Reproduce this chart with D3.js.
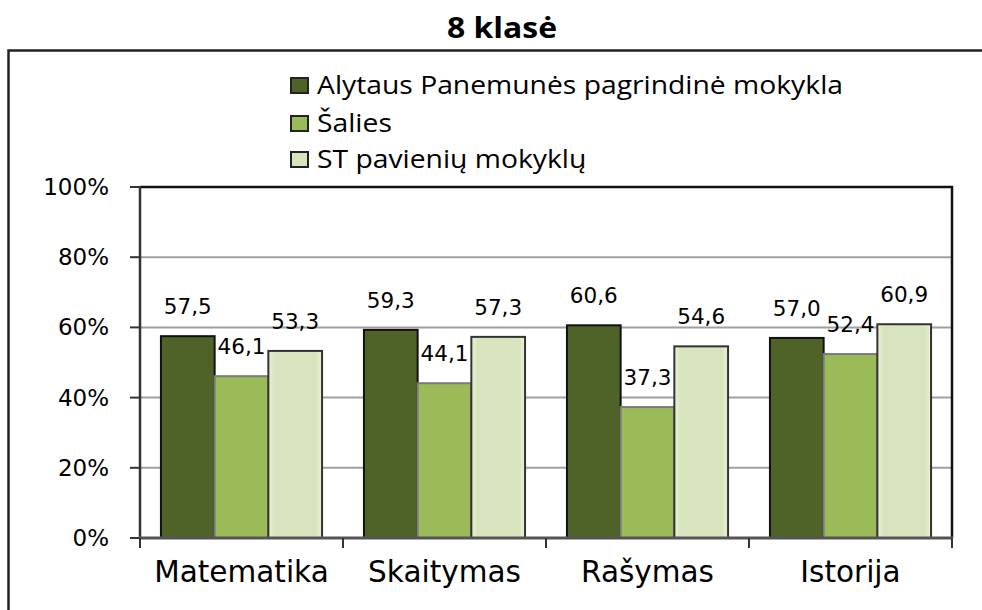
<!DOCTYPE html>
<html>
<head>
<meta charset="utf-8">
<script src="https://cdn.jsdelivr.net/npm/d3@7"></script>
<style>
  html, body { margin: 0; padding: 0; background: #fff; }
  svg { display: block; }
</style>
</head>
<body>
<svg id="chart" width="982" height="610"></svg>
<script>
const title = "8 klasė";
const categories = ["Matematika", "Skaitymas", "Rašymas", "Istorija"];
const seriesNames = ["Alytaus Panemunės pagrindinė mokykla", "Šalies", "ST pavienių mokyklų"];
const schoolValues = [57.5, 59.3, 60.6, 57.0];
const countryValues = [46.1, 44.1, 37.3, 52.4];
const stValues = [53.3, 57.3, 54.6, 60.9];
const yTicks = [0, 20, 40, 60, 80, 100];
const yTickLabels = ["0%", "20%", "40%", "60%", "80%", "100%"];

(function () {
const seriesValues = [schoolValues, countryValues, stValues];
const fills = ["#4F6228", "#9BBB59", "#D7E4BD"];
const strokes = ["#111111", "#7a7a7a", "#333333"];

const svg = d3.select("#chart");
const pLeft = 140, pRight = 952, pTop = 187, pBottom = 538;

// outer frame
svg.append("path").attr("d", "M8.5,620 V50.5 H1000")
  .attr("fill", "none").attr("stroke", "#222").attr("stroke-width", 2.5);

// title
svg.append("text").attr("x", 502).attr("y", 38).attr("text-anchor", "middle")
  .attr("font-family", "'Open Sans', sans-serif").attr("font-weight", "bold")
  .attr("font-size", 28).attr("fill", "#000").text(title)
  .attr("textLength", 110).attr("lengthAdjust", "spacingAndGlyphs");

const x0 = d3.scaleBand().domain(categories).range([pLeft, pRight]).paddingInner(0).paddingOuter(0);
const x1 = d3.scaleBand().domain(d3.range(seriesNames.length)).range([0, x0.bandwidth()])
  .paddingInner(0).paddingOuter(0.39);
const y = d3.scaleLinear().domain([0, 100]).range([pBottom, pTop]);

// gridlines
svg.append("g").selectAll("line").data(yTicks.filter(t => t > 0 && t < 100)).join("line")
  .attr("x1", pLeft).attr("x2", pRight).attr("y1", d => y(d)).attr("y2", d => y(d))
  .attr("stroke", "#a0a0a0").attr("stroke-width", 2);

// plot border top & right
svg.append("path").attr("d", `M${pLeft},${y(100)} H${pRight} V${pBottom}`)
  .attr("fill", "none").attr("stroke", "#111").attr("stroke-width", 2.5);

// bars
const defs = svg.append("defs");
const grad = defs.append("linearGradient").attr("id", "paleGrad").attr("x1", 0).attr("x2", 1).attr("y1", 0).attr("y2", 0);
grad.append("stop").attr("offset", "0%").attr("stop-color", "#e9f2d6");
grad.append("stop").attr("offset", "12%").attr("stop-color", "#D7E4BD");
grad.append("stop").attr("offset", "88%").attr("stop-color", "#D7E4BD");
grad.append("stop").attr("offset", "100%").attr("stop-color", "#e9f2d6");

const fmt = v => d3.format(".1f")(v).replace(".", ",");

seriesValues.forEach((vals, si) => {
  const g = svg.append("g");
  g.selectAll("rect").data(vals).join("rect")
    .attr("x", (d, i) => x0(categories[i]) + x1(si))
    .attr("y", d => y(d))
    .attr("width", x1.bandwidth())
    .attr("height", d => y(0) - y(d))
    .attr("fill", si === 2 ? "url(#paleGrad)" : fills[si])
    .attr("stroke", strokes[si]).attr("stroke-width", 2);
});

// value labels
seriesValues.forEach((vals, si) => {
  svg.append("g").selectAll("text").data(vals).join("text")
    .attr("x", (d, i) => x0(categories[i]) + x1(si) + x1.bandwidth() / 2)
    .attr("y", d => y(d) - 22)
    .attr("text-anchor", "middle")
    .attr("font-family", "'DejaVu Sans', Verdana, sans-serif")
    .attr("font-size", 21.5).attr("fill", "#000")
    .text(d => fmt(d));
});

// y axis
const yAxis = svg.append("g");
yAxis.append("line").attr("x1", pLeft).attr("x2", pLeft).attr("y1", y(100) - 1).attr("y2", pBottom)
  .attr("stroke", "#333").attr("stroke-width", 2.5);
yAxis.selectAll("line.tick").data(yTicks).join("line").attr("class", "tick")
  .attr("x1", 130).attr("x2", pLeft).attr("y1", d => y(d)).attr("y2", d => y(d))
  .attr("stroke", "#333").attr("stroke-width", 2);
yAxis.selectAll("text").data(yTicks).join("text")
  .attr("x", 109).attr("y", d => y(d) + 8).attr("text-anchor", "end")
  .attr("font-family", "'DejaVu Sans', Verdana, sans-serif").attr("font-size", 23).attr("fill", "#000")
  .text((d, i) => yTickLabels[i]);

// x axis
const xAxis = svg.append("g");
xAxis.append("line").attr("x1", pLeft - 1).attr("x2", pRight + 1).attr("y1", pBottom).attr("y2", pBottom)
  .attr("stroke", "#555").attr("stroke-width", 3);
const bounds = categories.map(c => x0(c)).concat([pRight]);
xAxis.selectAll("line.tick").data(bounds).join("line").attr("class", "tick")
  .attr("x1", d => d).attr("x2", d => d).attr("y1", pBottom).attr("y2", pBottom + 10)
  .attr("stroke", "#333").attr("stroke-width", 2);
xAxis.selectAll("text").data(categories).join("text")
  .attr("x", d => x0(d) + x0.bandwidth() / 2).attr("y", 582).attr("text-anchor", "middle")
  .attr("font-family", "'DejaVu Sans', Verdana, sans-serif").attr("font-size", 29.5).attr("fill", "#000")
  .text(d => d);

// legend
const legend = svg.append("g");
const rowY = [94, 132, 168];
seriesNames.forEach((name, i) => {
  legend.append("rect").attr("x", 291).attr("y", rowY[i] - 16).attr("width", 17).attr("height", 15)
    .attr("fill", fills[i]).attr("stroke", "#222").attr("stroke-width", 2);
  const t = legend.append("text").attr("x", 317).attr("y", rowY[i])
    .attr("font-family", "'Open Sans', sans-serif").attr("font-size", 25).attr("fill", "#000")
    .text(name);
  t.attr("data-w", t.node().getComputedTextLength());
});
const firstW = +legend.select("text").attr("data-w");
const stretch = 526 / firstW;
legend.selectAll("text").each(function () {
  const w = +d3.select(this).attr("data-w");
  d3.select(this).attr("textLength", w * stretch).attr("lengthAdjust", "spacingAndGlyphs");
});
})();
</script>
</body>
</html>
